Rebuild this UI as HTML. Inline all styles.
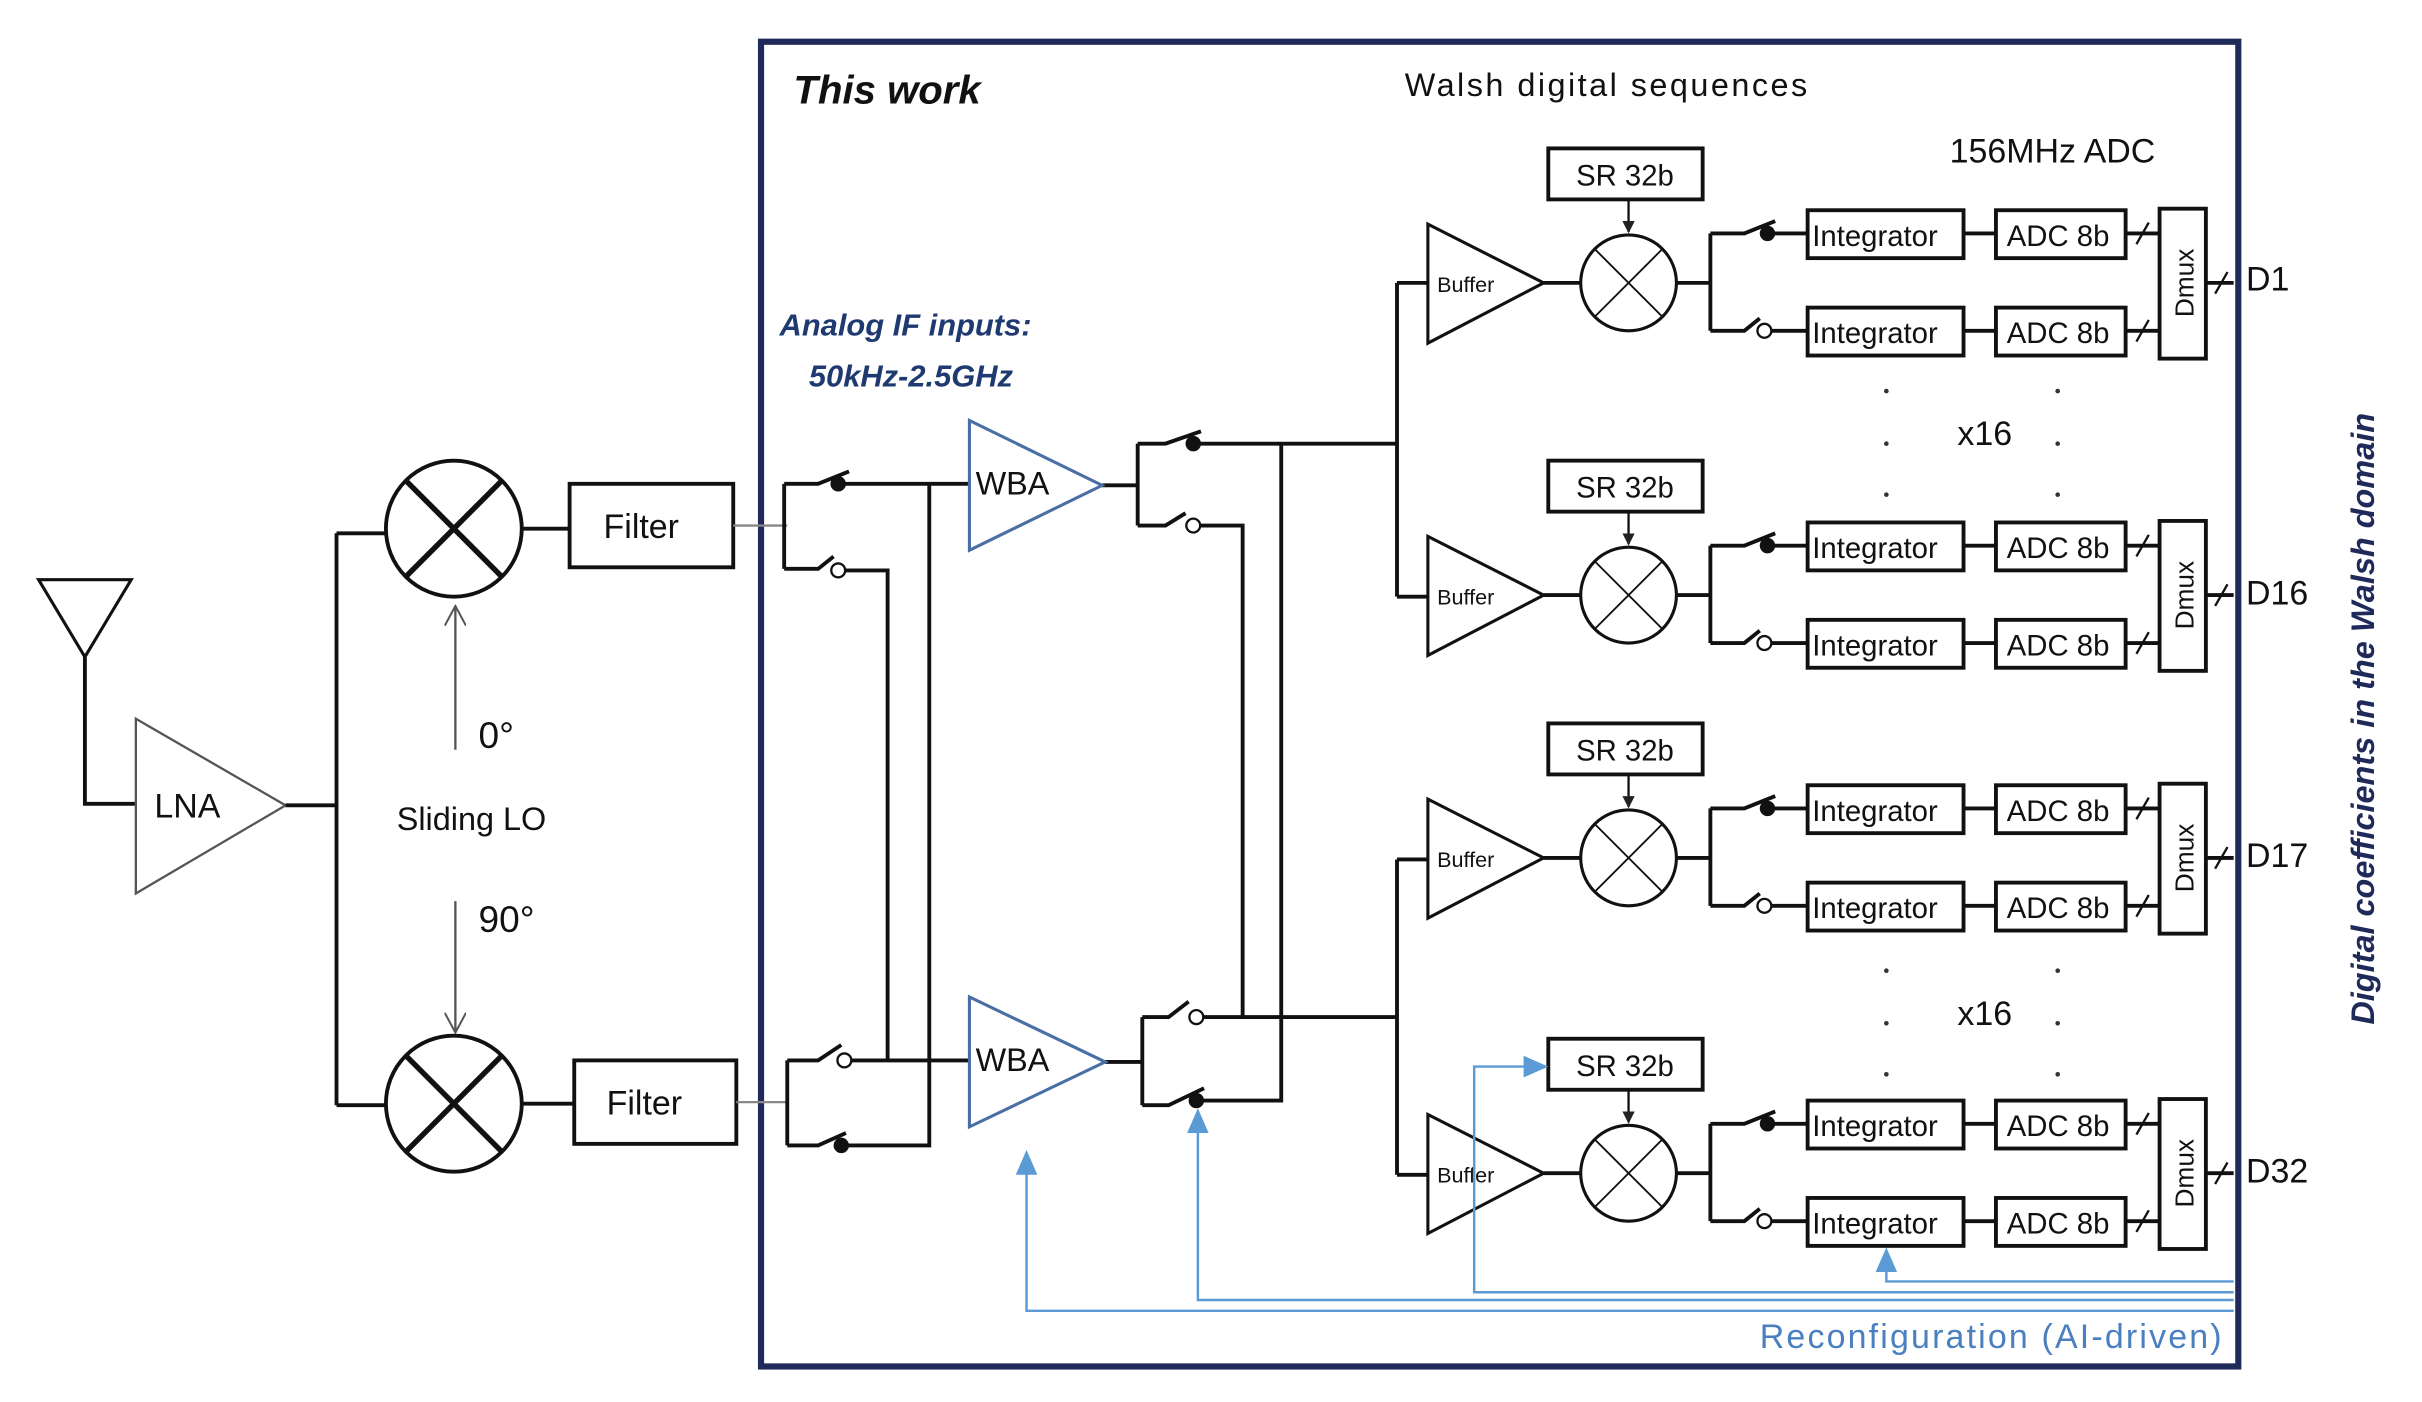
<!DOCTYPE html>
<html><head><meta charset="utf-8"><style>html,body{margin:0;padding:0;background:#fff}svg{display:block}</style></head>
<body>
<svg width="2422" height="1402" viewBox="0 0 1569 907" preserveAspectRatio="none" xmlns="http://www.w3.org/2000/svg" font-family="Liberation Sans, sans-serif">
<defs>
<marker id="ab" markerWidth="8" markerHeight="8" refX="7" refY="4" orient="auto" markerUnits="userSpaceOnUse"><path d="M0,0 L8,4 L0,8 z" fill="#222"/></marker>
<marker id="ablue" markerWidth="16" markerHeight="14" refX="14" refY="7" orient="auto" markerUnits="userSpaceOnUse"><path d="M0,0 L16,7 L0,14 z" fill="#5b9bd5"/></marker>
<marker id="aopen" markerWidth="14" markerHeight="14" refX="13" refY="7" orient="auto" markerUnits="userSpaceOnUse"><path d="M0,0 L13,7 L0,14" fill="none" stroke="#555" stroke-width="1.3"/></marker>
</defs>
<rect x="493" y="27" width="957" height="857" fill="none" stroke="#1f2a5a" stroke-width="4"/>
<text x="514" y="67" font-size="26" font-weight="bold" font-style="italic" fill="#111">This work</text>
<text x="910" y="62" font-size="21" fill="#111" letter-spacing="1.6">Walsh digital sequences</text>
<text x="1263" y="105" font-size="22" fill="#111">156MHz ADC</text>
<text x="505" y="217" font-size="20" font-weight="bold" font-style="italic" fill="#1f3a70">Analog IF inputs:</text>
<text x="524" y="250" font-size="20" font-weight="bold" font-style="italic" fill="#1f3a70">50kHz-2.5GHz</text>
<g stroke="#111" stroke-width="2.5" fill="none">
<path d="M25,375 H85 L55,425 Z" stroke-width="2"/>
<path d="M55,425 V520 H88"/>
<path d="M88,465 V578 L185,521 Z" stroke="#555" stroke-width="1.5" fill="#fff"/>
<path d="M185,521 H218 M218,345 V715 M218,345 H250 M218,715 H250"/>
<circle cx="294" cy="342" r="44"/><circle cx="294" cy="714" r="44"/>
<path d="M263,311 L325,373 M325,311 L263,373 M263,683 L325,745 M325,683 L263,745" stroke-width="3.5"/>
<path d="M338,342 H369 M338,714 H372"/>
<rect x="369" y="313" width="106" height="54"/><rect x="372" y="686" width="105" height="54"/>
</g>
<text x="391" y="348" font-size="22" fill="#111">Filter</text>
<text x="393" y="721" font-size="22" fill="#111">Filter</text>
<text x="100" y="529" font-size="22" fill="#111">LNA</text>
<path d="M295,485 V392" stroke="#555" stroke-width="1.5" marker-end="url(#aopen)"/>
<path d="M295,583 V668" stroke="#555" stroke-width="1.5" marker-end="url(#aopen)"/>
<text x="310" y="484" font-size="24" fill="#111">0°</text>
<text x="257" y="537" font-size="21" fill="#111">Sliding LO</text>
<text x="310" y="603" font-size="24" fill="#111">90°</text>
<path d="M475,340 H510 M477,713 H510" stroke="#888" stroke-width="1.5"/>
<g stroke="#111" stroke-width="2.5" fill="none">
<path d="M508,313 V368 M508,313 H530 L550,305 M508,368 H530 L540,360 M545,369 H575 V686"/>
<path d="M545,313 H628"/>
<path d="M510,686 V741 M510,686 H530 L545,676 M510,741 H530 L548,733 M549,686 H628 M545,741 H602 V313"/>
<path d="M714,314 H737 M737,287 V340 M737,287 H755 L778,279 M737,340 H755 L768,332 M773,287 H905 M777,340 H805 V658"/>
<path d="M716,687 H740 M740,658 V715 M740,658 H757 L770,648 M740,715 H757 L780,704 M779,658 H905 M775,712 H830 V287"/>
<path d="M905,183 V386 M905,183 H925 M905,386 H925 M905,556 V760 M905,556 H925 M905,760 H925"/>
</g>
<g fill="#111"><circle cx="543" cy="313" r="5"/><circle cx="545" cy="741" r="5"/><circle cx="773" cy="287" r="5"/><circle cx="775" cy="712" r="5"/></g>
<g fill="#fff" stroke="#111" stroke-width="1.5"><circle cx="543" cy="369" r="4.5"/><circle cx="547" cy="686" r="4.5"/><circle cx="773" cy="340" r="4.5"/><circle cx="775" cy="658" r="4.5"/></g>
<path d="M628,272 V356 L714,314 Z" fill="#fff" stroke="#4a6fa5" stroke-width="2"/>
<path d="M628,645 V729 L716,687 Z" fill="#fff" stroke="#4a6fa5" stroke-width="2"/>
<text x="632" y="320" font-size="21" fill="#111">WBA</text>
<text x="632" y="693" font-size="21" fill="#111">WBA</text>

<g id="g1">
<path d="M925,145 V222 L1000,183 Z" fill="#fff" stroke="#111" stroke-width="2"/>
<text x="931" y="189" font-size="14" fill="#111">Buffer</text>
<path d="M1000,183 H1024 M1086,183 H1108 M1108,151 V214 M1108,151 H1130 L1150,143 M1108,214 H1130 L1140,206 M1148,151 H1171 M1147,214 H1171 M1272,151 H1293 M1272,214 H1293 M1377,151 H1399 M1377,214 H1399 M1429,183 H1447" stroke="#111" stroke-width="2.5" fill="none"/>
<circle cx="1055" cy="183" r="31" fill="#fff" stroke="#111" stroke-width="2"/>
<path d="M1033,161 L1077,205 M1077,161 L1033,205" stroke="#111" stroke-width="1.2"/>
<rect x="1003" y="96" width="100" height="33" fill="#fff" stroke="#111" stroke-width="2.5"/>
<text x="1021" y="120" font-size="19" fill="#111">SR 32b</text>
<path d="M1055,129 V150" stroke="#111" stroke-width="1.5" marker-end="url(#ab)"/>
<circle cx="1145" cy="151" r="5" fill="#111"/><circle cx="1143" cy="214" r="4.5" fill="#fff" stroke="#111" stroke-width="1.5"/>
<rect x="1171" y="136" width="101" height="31" fill="#fff" stroke="#111" stroke-width="2.5"/>
<rect x="1171" y="199" width="101" height="31" fill="#fff" stroke="#111" stroke-width="2.5"/>
<text x="1174" y="159" font-size="19" fill="#111">Integrator</text>
<text x="1174" y="222" font-size="19" fill="#111">Integrator</text>
<rect x="1293" y="136" width="84" height="31" fill="#fff" stroke="#111" stroke-width="2.5"/>
<rect x="1293" y="199" width="84" height="31" fill="#fff" stroke="#111" stroke-width="2.5"/>
<text x="1300" y="159" font-size="19" fill="#111">ADC 8b</text>
<text x="1300" y="222" font-size="19" fill="#111">ADC 8b</text>
<rect x="1399" y="135" width="30" height="97" fill="#fff" stroke="#111" stroke-width="2.5"/>
<text transform="translate(1421,183) rotate(-90)" text-anchor="middle" font-size="17" fill="#111">Dmux</text>
<path d="M1384,158 L1392,144 M1384,221 L1392,207 M1435,190 L1443,176" stroke="#111" stroke-width="1.5"/>
</g>
<use href="#g1" transform="translate(0,202)"/>
<use href="#g1" transform="translate(0,372)"/>
<use href="#g1" transform="translate(0,576)"/>
<text x="1455" y="188" font-size="22" fill="#111">D1</text>
<text x="1455" y="391" font-size="22" fill="#111">D16</text>
<text x="1455" y="561" font-size="22" fill="#111">D17</text>
<text x="1455" y="765" font-size="22" fill="#111">D32</text>
<text x="1268" y="288" font-size="22" fill="#111">x16</text>
<text x="1268" y="663" font-size="22" fill="#111">x16</text>
<g fill="#333">
<circle cx="1222" cy="253" r="1.5"/><circle cx="1222" cy="287" r="1.5"/><circle cx="1222" cy="320" r="1.5"/>
<circle cx="1333" cy="253" r="1.5"/><circle cx="1333" cy="287" r="1.5"/><circle cx="1333" cy="320" r="1.5"/>
<circle cx="1222" cy="628" r="1.5"/><circle cx="1222" cy="662" r="1.5"/><circle cx="1222" cy="695" r="1.5"/>
<circle cx="1333" cy="628" r="1.5"/><circle cx="1333" cy="662" r="1.5"/><circle cx="1333" cy="695" r="1.5"/>
</g>
<text transform="translate(1538,465) rotate(-90)" text-anchor="middle" font-size="21" font-weight="bold" font-style="italic" fill="#1f2a5a">Digital coefficients  in the Walsh domain</text>
<g stroke="#5b9bd5" stroke-width="1.6" fill="none">
<path d="M1447,848 H665 V746" marker-end="url(#ablue)"/>
<path d="M1447,841 H776 V719" marker-end="url(#ablue)"/>
<path d="M1447,836 H955 V690 H1001" marker-end="url(#ablue)"/>
<path d="M1447,829 H1222 V809" marker-end="url(#ablue)"/>
</g>
<text x="1140" y="872" font-size="22" fill="#4a7fc0" letter-spacing="1.4">Reconfiguration (AI-driven)</text>
</svg>
</body></html>
